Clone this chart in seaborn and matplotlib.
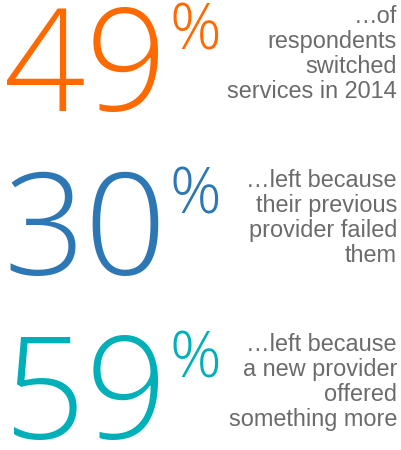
import matplotlib
matplotlib.use("Agg")
import matplotlib.pyplot as plt
import seaborn as sns

sns.set_theme(style="white")
plt.rcParams['font.family'] = ['Liberation Sans', 'DejaVu Sans']

percentages = [49, 30, 59]
colors = ["#FF6A00", "#2C77B4", "#00B0B9"]
captions = [
    ["…of", "respondents", "switched", "services in 2014"],
    ["…left because", "their previous", "provider failed", "them"],
    ["…left because", "a new provider", "offered", "something more"],
]

fig = plt.figure(figsize=(4.02, 4.5), dpi=100)
ax = fig.add_axes([0, 0, 1, 1])
ax.set_xlim(0, 402)
ax.set_ylim(450, 0)
ax.axis("off")

px = 72 / 100
row_h = 164
for i, (p, c, lines) in enumerate(zip(percentages, colors, captions)):
    top = 5 + i * row_h
    base = top + 106
    ax.text(167, base, f"{p}", ha="right", va="baseline", color=c,
            fontsize=143 * px, family="Open Sans", fontweight=300)
    ax.text(170, top + 45, "%", ha="left", va="baseline", color=c,
            fontsize=64 * px, family="Open Sans", fontweight=300)
    for j, line in enumerate(lines):
        ax.text(397, top + 18 + j * 25, line, ha="right", va="baseline",
                color="#6b6b6b", fontsize=23.5 * px)

fig.savefig("out.png", dpi=100)
